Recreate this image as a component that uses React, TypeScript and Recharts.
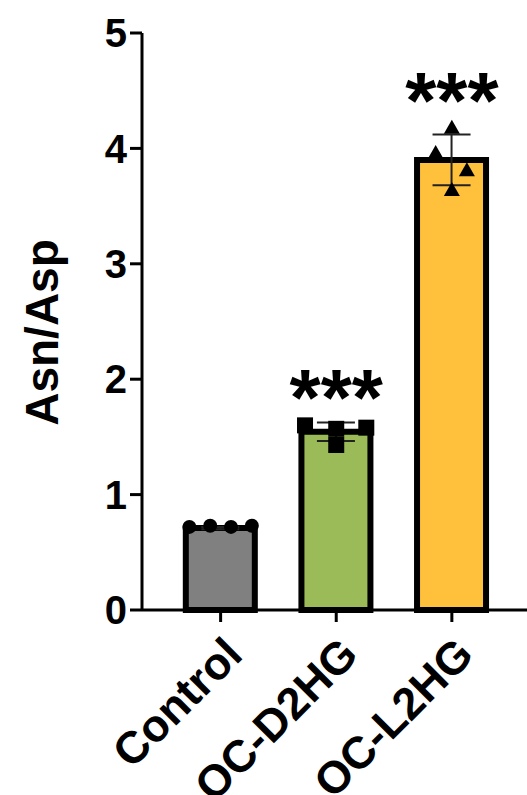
import React from "react";
import { ComposedChart, Bar, Scatter, ErrorBar, XAxis, YAxis, Cell } from "recharts";

// groups and summary values
const groups = ["Control", "OC-D2HG", "OC-L2HG"];
const means = [0.71, 1.545, 3.9];
const sds = [0.01, 0.08, 0.22];
const colors = ["#808080", "#9bbb59", "#ffc03c"];
const stars = ["", "***", "***"];

// individual replicates
const controlPts = [0.72, 0.73, 0.72, 0.73];
const d2hgPts = [1.6, 1.57, 1.43, 1.58];
const l2hgPts = [4.18, 3.96, 3.81, 3.64];

const yTicks = [0, 1, 2, 3, 4, 5];

// horizontal spread of points inside each bar (layout only)
const SPREAD = [
  [-0.27, -0.09, 0.09, 0.27],
  [-0.27, 0, 0, 0.26],
  [0, -0.14, 0.13, 0],
];
const X_DOMAIN = [-0.68, 2.65];

const FONT = "'Liberation Sans', Arial, sans-serif";

const barData = groups.map((g, i) => ({ x: i, name: g, mean: means[i], sd: sds[i] }));
const ptsOf = (vals: number[], gi: number) => vals.map((v, j) => ({ x: gi + SPREAD[gi][j], y: v }));
const starData = [d2hgPts, l2hgPts].map((p, k) => ({ x: k + 1, y: Math.max(...p), label: stars[k + 1] }));

const Dot = (p: any) => <circle cx={p.cx} cy={p.cy} r={7} fill="#000" />;
const Sq = (p: any) => <rect x={p.cx - 8} y={p.cy - 8} width={16} height={16} fill="#000" />;
const Tri = (p: any) => (
  <polygon points={`${p.cx},${p.cy - 8} ${p.cx - 8},${p.cy + 6} ${p.cx + 8},${p.cy + 6}`} fill="#000" />
);
const Star = (p: any) => (
  <text x={p.cx} y={p.cy} textAnchor="middle" fontSize={80} fontWeight="bold" fontFamily={FONT} fill="#000">
    {p.payload.label}
  </text>
);

const XTick = ({ x, y, payload }: any) => {
  const tx = x + 24;
  const ty = y + 33;
  return (
    <text x={tx} y={ty} transform={`rotate(-45 ${tx} ${ty})`} textAnchor="end" fontSize={45}
      fontWeight="bold" fontFamily={FONT} fill="#000">
      {groups[payload.value]}
    </text>
  );
};

const YLabel = ({ viewBox }: any) => {
  const cx = 42;
  const cy = viewBox.y + viewBox.height / 2 + 11;
  return (
    <text x={cx} y={cy} transform={`rotate(-90 ${cx} ${cy})`} textAnchor="middle" dominantBaseline="central"
      fontSize={46} fontWeight="bold" fontFamily={FONT} fill="#000">
      Asn/Asp
    </text>
  );
};

export default function App() {
  return (
    <div style={{ position: "absolute", left: 0, top: 0, background: "#fff" }}>
      <ComposedChart width={527} height={795} data={barData} margin={{ top: 33, right: 0, bottom: 0, left: 0 }}>
        <XAxis
          xAxisId="bars"
          type="number"
          dataKey="x"
          domain={X_DOMAIN}
          ticks={[0, 1, 2]}
          allowDataOverflow
          height={185}
          tickSize={12}
          axisLine={{ stroke: "#000", strokeWidth: 3 }}
          tickLine={{ stroke: "#000", strokeWidth: 3 }}
          tick={<XTick />}
        />
        <XAxis xAxisId="pts" type="number" dataKey="x" domain={X_DOMAIN} allowDataOverflow height={185} hide />
        <YAxis
          domain={[0, 5]}
          ticks={yTicks}
          width={142}
          tickSize={12}
          tickMargin={3}
          axisLine={{ stroke: "#000", strokeWidth: 3 }}
          tickLine={{ stroke: "#000", strokeWidth: 3 }}
          tick={{ fill: "#000", fontSize: 40, fontWeight: "bold", fontFamily: FONT }}
          label={<YLabel />}
        />
        <Bar xAxisId="bars" dataKey="mean" barSize={69} stroke="#000" strokeWidth={6} isAnimationActive={false}>
          {barData.map((d, i) => (
            <Cell key={d.name} fill={colors[i]} />
          ))}
          <ErrorBar dataKey="sd" width={19} stroke="#222" strokeWidth={2} />
        </Bar>
        <Scatter xAxisId="pts" data={ptsOf(controlPts, 0)} dataKey="y" shape={Dot} isAnimationActive={false} />
        <Scatter xAxisId="pts" data={ptsOf(d2hgPts, 1)} dataKey="y" shape={Sq} isAnimationActive={false} />
        <Scatter xAxisId="pts" data={ptsOf(l2hgPts, 2)} dataKey="y" shape={Tri} isAnimationActive={false} />
        <Scatter xAxisId="pts" data={starData} dataKey="y" shape={Star} isAnimationActive={false} />
      </ComposedChart>
    </div>
  );
}
